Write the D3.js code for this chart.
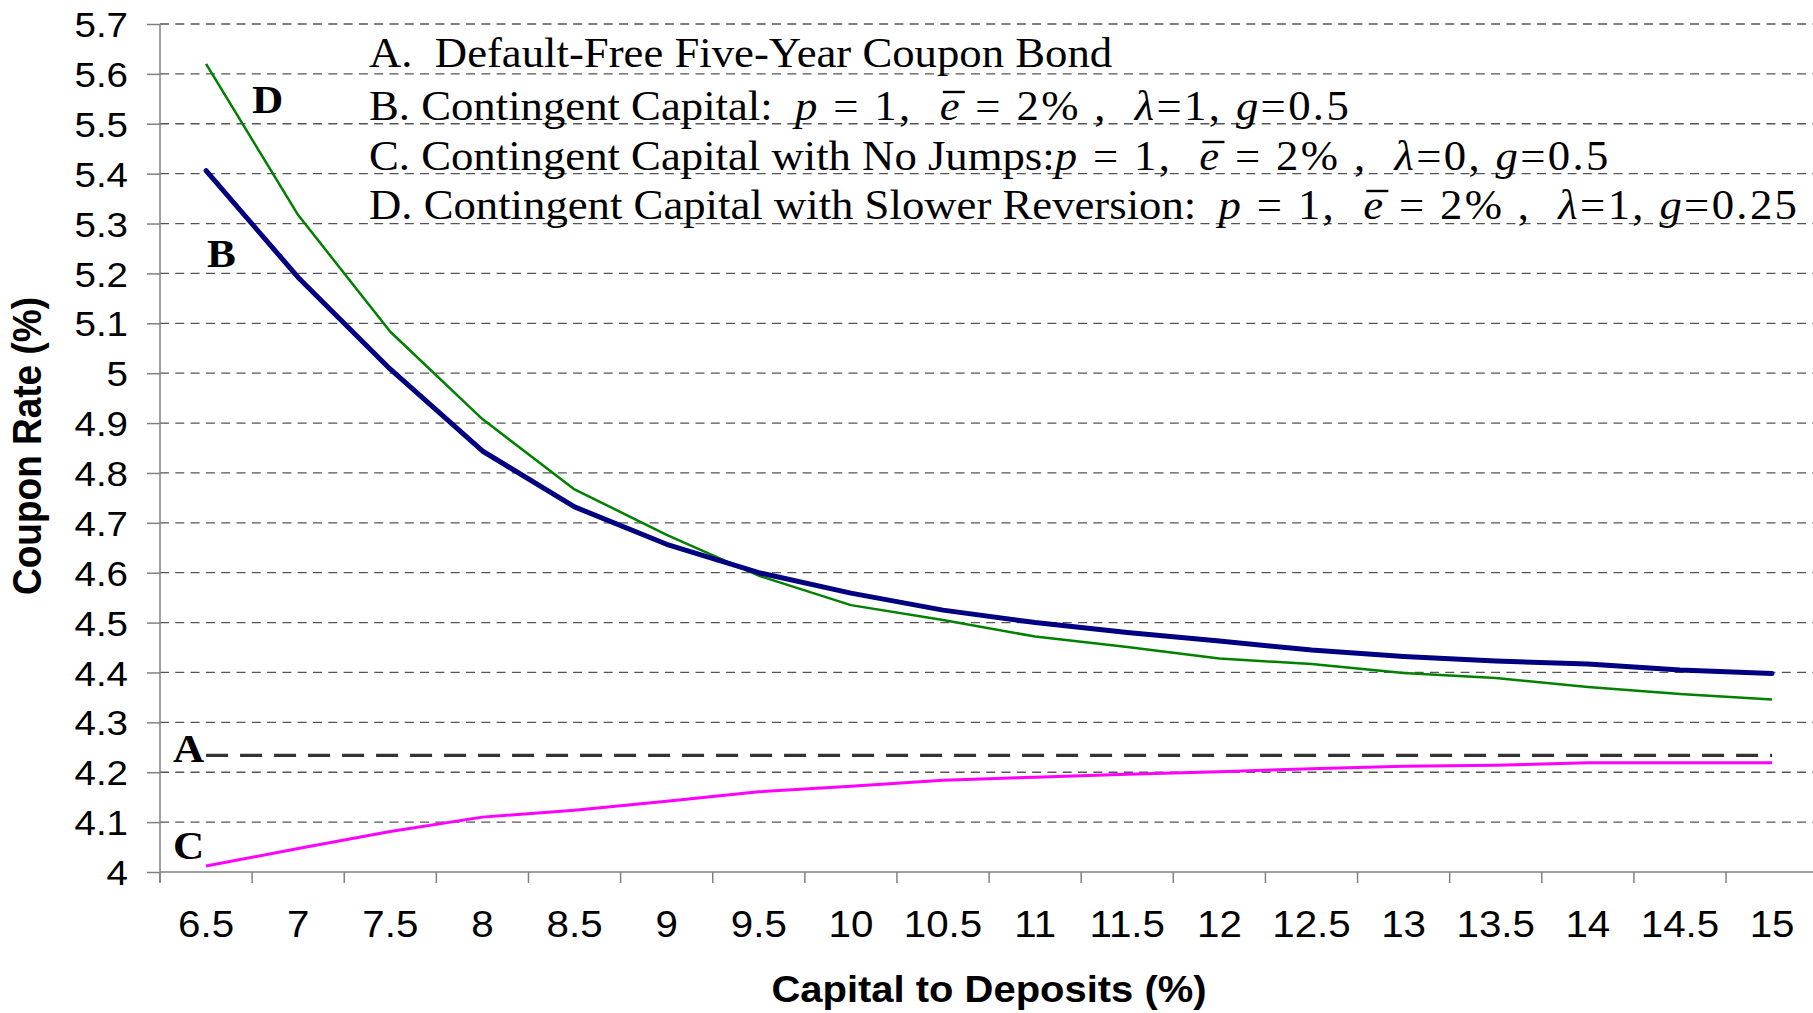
<!DOCTYPE html>
<html><head><meta charset="utf-8">
<script src="https://cdn.jsdelivr.net/npm/d3@7"></script>
<style>body{margin:0;background:#fff;} svg{display:block;} text{white-space:pre;}</style>
</head><body>
<svg id="chart" width="1813" height="1013"></svg>
<script>
const categories = ["6.5","7","7.5","8","8.5","9","9.5","10","10.5","11","11.5","12","12.5","13","13.5","14","14.5","15"];
const seriesA = [4.234,4.234,4.234,4.234,4.234,4.234,4.234,4.234,4.234,4.234,4.234,4.234,4.234,4.234,4.234,4.234,4.234,4.234];
const seriesB = [5.406,5.192,5.008,4.844,4.732,4.657,4.600,4.559,4.525,4.500,4.480,4.463,4.445,4.432,4.423,4.417,4.405,4.398];
const seriesC = [4.012,4.047,4.081,4.110,4.124,4.142,4.161,4.172,4.184,4.190,4.196,4.201,4.207,4.212,4.214,4.219,4.219,4.219];
const seriesD = [5.620,5.317,5.083,4.908,4.767,4.676,4.594,4.535,4.505,4.472,4.451,4.428,4.417,4.399,4.389,4.371,4.357,4.346];
const yTicks = [4,4.1,4.2,4.3,4.4,4.5,4.6,4.7,4.8,4.9,5,5.1,5.2,5.3,5.4,5.5,5.6,5.7];
const yTickLabels = ["4","4.1","4.2","4.3","4.4","4.5","4.6","4.7","4.8","4.9","5","5.1","5.2","5.3","5.4","5.5","5.6","5.7"];
const xTitle = "Capital to Deposits (%)";
const yTitle = "Coupon Rate (%)";
const seriesNames = ["A","B","C","D"];
const legendLines = [
  [{t:"A.  Default-Free Five-Year Coupon Bond"}],
  [{t:"B. Contingent Capital:  "},{t:"p",i:1,m:1},{t:" = 1,  ",m:1},{t:"e",i:1,o:1,m:1},{t:" = 2% ,  ",m:1},{t:"λ",i:1,m:1},{t:"=1, ",m:1},{t:"g",i:1,m:1},{t:"=0.5",m:1}],
  [{t:"C. Contingent Capital with No Jumps:"},{t:"p",i:1,m:1},{t:" = 1,  ",m:1},{t:"e",i:1,o:1,m:1},{t:" = 2% ,  ",m:1},{t:"λ",i:1,m:1},{t:"=0, ",m:1},{t:"g",i:1,m:1},{t:"=0.5",m:1}],
  [{t:"D. Contingent Capital with Slower Reversion:  "},{t:"p",i:1,m:1},{t:" = 1,  ",m:1},{t:"e",i:1,o:1,m:1},{t:" = 2% ,  ",m:1},{t:"λ",i:1,m:1},{t:"=1, ",m:1},{t:"g",i:1,m:1},{t:"=0.25",m:1}]
];

const W = 1813, H = 1013;
const SANS = "'Liberation Sans', Arial, sans-serif";
const SERIF = "'Liberation Serif', 'Times New Roman', serif";
const SX = 1.08;
const LSX = 1.065;
const MATH_LS = 2.2;

const svg = d3.select("#chart");
svg.append("rect").attr("width", W).attr("height", H).attr("fill", "#fff");

const x = d3.scaleBand().domain(categories).range([160, 160 + 18 * 92.12]).padding(0);
const y = d3.scaleLinear().domain([4, 5.7]).range([872, 24]);
const cx = c => x(c) + x.bandwidth() / 2;

// gridlines
svg.append("g").selectAll("line").data(yTicks.filter(v => v > 4)).join("line")
  .attr("x1", 160).attr("x2", W).attr("y1", d => y(d)).attr("y2", d => y(d))
  .attr("stroke", "#555").attr("stroke-width", 1.3).attr("stroke-dasharray", "9,6.3");

// y axis
const yAxis = svg.append("g").attr("transform", "translate(160,0)")
  .call(d3.axisLeft(y).tickValues(yTicks).tickSize(13).tickSizeOuter(0)
    .tickFormat((d, i) => yTickLabels[i]));
yAxis.select(".domain").remove();
yAxis.selectAll(".tick line").attr("stroke", "#808080").attr("stroke-width", 1.5);
yAxis.selectAll(".tick text")
  .attr("font-family", SANS).attr("font-size", 35).attr("fill", "#000")
  .attr("x", -32 / 1.1).attr("dy", "0.36em").attr("transform", "scale(1.1,1)");
svg.append("line").attr("x1", 160).attr("x2", 160).attr("y1", y(5.7)).attr("y2", 883)
  .attr("stroke", "#808080").attr("stroke-width", 1.5);

// x axis
svg.append("line").attr("x1", 160).attr("x2", W).attr("y1", y(4)).attr("y2", y(4))
  .attr("stroke", "#808080").attr("stroke-width", 1.5);
const bounds = categories.map(c => x(c)).concat([x.range()[1]]);
svg.append("g").selectAll("line").data(bounds).join("line")
  .attr("x1", d => d).attr("x2", d => d).attr("y1", y(4)).attr("y2", 883)
  .attr("stroke", "#808080").attr("stroke-width", 1.5);
svg.append("g").selectAll("text").data(categories).join("text")
  .attr("transform", d => `translate(${cx(d)},937) scale(1.09,1)`)
  .attr("text-anchor", "middle").attr("font-family", SANS).attr("font-size", 37)
  .text(d => d);

// titles
svg.append("text").attr("transform", `translate(989,1002) scale(${SX},1)`)
  .attr("text-anchor", "middle").attr("font-family", SANS).attr("font-size", 37)
  .attr("font-weight", "bold").text(xTitle);
svg.append("text").attr("transform", `translate(41,446) scale(${SX},1) rotate(-90)`)
  .attr("text-anchor", "middle").attr("font-family", SANS).attr("font-size", 37)
  .attr("font-weight", "bold").text(yTitle);

// series lines
const line = d3.line().x((d, i) => cx(categories[i])).y(d => y(d));
svg.append("path").datum(seriesA).attr("d", line).attr("fill", "none")
  .attr("stroke", "#333").attr("stroke-width", 3.2).attr("stroke-dasharray", "22,12");
svg.append("path").datum(seriesC).attr("d", line).attr("fill", "none")
  .attr("stroke", "#ff00ff").attr("stroke-width", 3).attr("stroke-linejoin", "round");
svg.append("path").datum(seriesD).attr("d", line).attr("fill", "none")
  .attr("stroke", "#008000").attr("stroke-width", 2.5).attr("stroke-linejoin", "round");
svg.append("path").datum(seriesB).attr("d", line).attr("fill", "none")
  .attr("stroke", "#000080").attr("stroke-width", 5).attr("stroke-linejoin", "round")
  .attr("stroke-linecap", "round");

// series letter labels
const letterPos = [[173, 762], [207, 267], [173, 859], [252, 113]];
svg.append("g").selectAll("text").data(seriesNames).join("text")
  .attr("transform", (d, i) => `translate(${letterPos[i][0]},${letterPos[i][1]}) scale(${SX},1)`)
  .attr("font-family", SERIF).attr("font-size", 40).attr("font-weight", "bold").text(d => d);

// legend text
const legY = [67, 120, 170, 219];
legendLines.forEach((parts, k) => {
  const g = svg.append("g").attr("transform", `translate(369,${legY[k]}) scale(${LSX},1)`);
  const t = g.append("text").attr("font-family", SERIF).attr("font-size", 42).attr("fill", "#000");
  let idx = 0;
  const over = [];
  parts.forEach(p => {
    const s = t.append("tspan").text(p.t);
    if (p.i) s.attr("font-style", "italic");
    if (p.m) s.attr("letter-spacing", MATH_LS);
    if (p.o) over.push(idx);
    idx += p.t.length;
  });
  over.forEach(ci => {
    const a = t.node().getStartPositionOfChar(ci).x;
    const b = t.node().getEndPositionOfChar(ci).x - MATH_LS;
    g.append("line").attr("x1", a + 3).attr("x2", b + 5).attr("y1", -28).attr("y2", -28)
      .attr("stroke", "#000").attr("stroke-width", 2.4);
  });
});
</script>
</body></html>
